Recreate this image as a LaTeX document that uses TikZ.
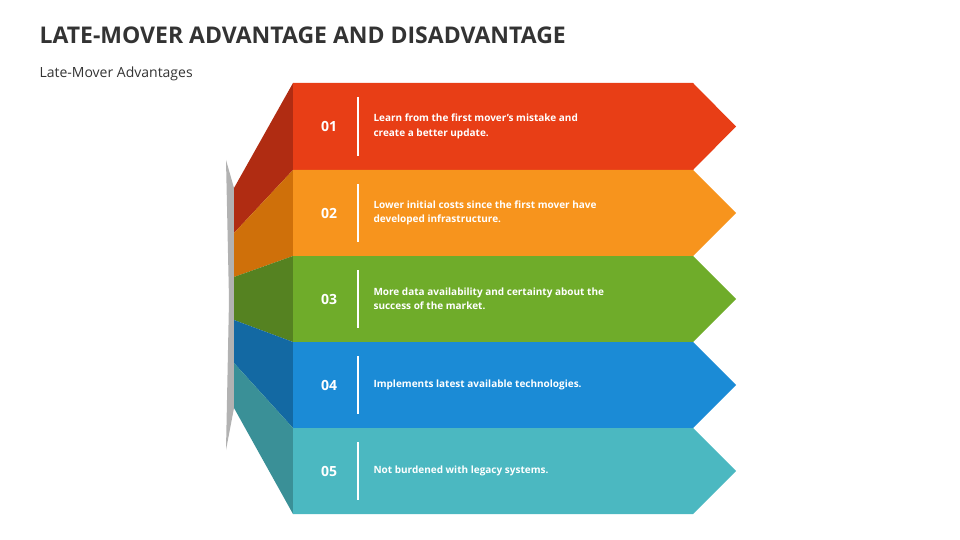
\documentclass[tikz,border=0pt]{standalone}
\usepackage{fontspec}
\setmainfont{Open Sans}
\definecolor{titlegray}{HTML}{333333}
\definecolor{cA}{HTML}{E83E16}\definecolor{sA}{HTML}{B02C12}
\definecolor{cB}{HTML}{F7941D}\definecolor{sB}{HTML}{CF700A}
\definecolor{cC}{HTML}{6FAC2A}\definecolor{sC}{HTML}{558221}
\definecolor{cD}{HTML}{1B8BD6}\definecolor{sD}{HTML}{1369A3}
\definecolor{cE}{HTML}{4BB8C1}\definecolor{sE}{HTML}{3A9097}
\begin{document}
\begin{tikzpicture}[x=1pt,y=-1pt,
    num/.style={text=white,font=\bfseries\fontsize{14}{16}\selectfont},
    txt/.style={text=white,anchor=west,align=left,font=\bfseries\fontsize{10}{14.5}\selectfont}]
\useasboundingbox (0,0) rectangle (960,540);
\node[anchor=west,text=titlegray,font=\bfseries\fontsize{23}{26}\selectfont] (title) at (36,35) {LATE-MOVER ADVANTAGE AND DISADVANTAGE};
\node[anchor=west,text=titlegray,font=\fontsize{14}{16}\selectfont] (sub) at (36,74) {Late-Mover Advantages};
% shadow at the fold
\fill[gray!60] (234,188) -- (226,160) -- (229,300) -- (226,450) -- (234,408) -- cycle;
% side faces
\fill[sA] (293,83) -- (293,170) -- (234,233) -- (234,188) -- cycle;
\fill[sB] (293,170) -- (293,256) -- (234,277) -- (234,233) -- cycle;
\fill[sC] (293,256) -- (293,342) -- (234,320) -- (234,277) -- cycle;
\fill[sD] (293,342) -- (293,428) -- (234,363) -- (234,320) -- cycle;
\fill[sE] (293,428) -- (293,514) -- (234,408) -- (234,363) -- cycle;
% arrows
\foreach \t/\b/\c/\n/\s in {83/170/cA/01/{Learn from the first mover’s mistake and\\create a better update.},
    170/256/cB/02/{Lower initial costs since the first mover have\\developed infrastructure.},
    256/342/cC/03/{More data availability and certainty about the\\success of the market.},
    342/428/cD/04/{Implements latest available technologies.},
    428/514/cE/05/{Not burdened with legacy systems.}}{
  \fill[\c] (293,\t) -- (693,\t) -- (736,{(\t+\b)/2}) -- (693,\b) -- (293,\b) -- cycle;
  \node[num] (n\n) at (329,{(\t+\b)/2}) {\n};
  \draw[white,line width=1.5pt] (358,\t+14) -- (358,\b-14);
  \node[txt] (t\n) at (370,{(\t+\b)/2}) {\s};
}
\end{tikzpicture}
\end{document}
